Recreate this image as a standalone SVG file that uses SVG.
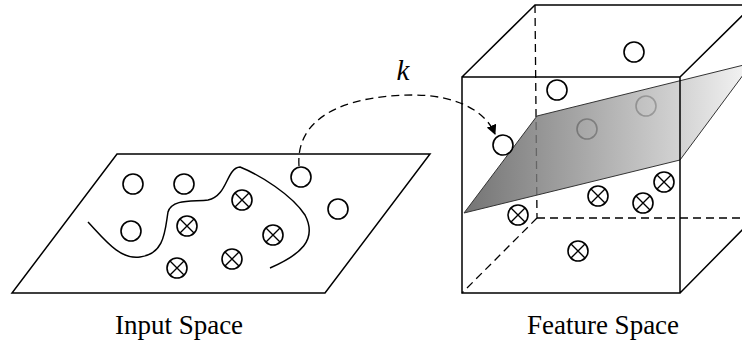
<svg xmlns="http://www.w3.org/2000/svg" width="742" height="345" viewBox="0 0 742 345">
<style>
.ln{fill:none;stroke:#000;stroke-width:1.5}
.dash{fill:none;stroke:#000;stroke-width:1.3;stroke-dasharray:8 5}
.o{fill:#fff;stroke:#000;stroke-width:1.6}
.lbl{font-family:"Liberation Serif",serif;font-size:27px;fill:#000;text-anchor:middle}
</style>
<defs>
<linearGradient id="g" x1="464" y1="0" x2="750" y2="0" gradientUnits="userSpaceOnUse">
<stop offset="0" stop-color="#555"/>
<stop offset="0.75" stop-color="#c8c8c8"/>
<stop offset="1" stop-color="#f2f2f2"/>
</linearGradient>
<marker id="ah" viewBox="0 0 10 10" refX="9" refY="5" markerWidth="10" markerHeight="10" markerUnits="userSpaceOnUse" orient="auto">
<path d="M0,0 L10,5 L0,10 Z" fill="#000"/>
</marker>
<g id="xc"><circle r="10" cx="0" cy="0" fill="#fff" stroke="#000" stroke-width="1.6"/><path d="M-7,-7 L7,7 M7,-7 L-7,7" stroke="#000" stroke-width="1.4"/></g>
</defs>
<g id="input-space">
<polygon class="ln" points="117,154 430,154 325,293 12,293"/>
<path class="ln" d="M88,222 C105,240 120,260 140,257 C165,254 165,230 168,212 C172,198 195,202 208,200 C228,196 226,168 240,167 C260,175 292,195 305,215 C318,240 300,255 270,268"/>
<circle class="o" cx="133" cy="184" r="10"/>
<circle class="o" cx="184" cy="184" r="10"/>
<circle class="o" cx="131" cy="231" r="10"/>
<circle class="o" cx="301" cy="177" r="10"/>
<circle class="o" cx="338" cy="209" r="10"/>
<use href="#xc" x="242" y="200"/>
<use href="#xc" x="187" y="226"/>
<use href="#xc" x="273" y="235"/>
<use href="#xc" x="232" y="259"/>
<use href="#xc" x="177" y="268"/>
</g>
<g id="feature-space">
<path class="dash" d="M535,5 L537,218 M537,218 L742,218 M537,218 L462,293"/>
<circle class="o" cx="634" cy="52" r="10"/>
<circle class="o" cx="557" cy="90" r="10"/>
<circle class="o" cx="587" cy="129" r="10"/>
<circle class="o" cx="646" cy="106" r="10"/>
<polygon points="464,213 537,116 752,63 680,160" fill="url(#g)" fill-opacity="0.82" stroke="#333" stroke-width="1"/>
<path class="ln" d="M462,77 L680,77 L680,293 L462,293 Z M462,77 L535,5 L753,5 M680,77 L753,5 M680,293 L752,220"/>
<circle class="o" cx="503" cy="145" r="10"/>
<use href="#xc" x="518" y="215"/>
<use href="#xc" x="598" y="196"/>
<use href="#xc" x="643" y="203"/>
<use href="#xc" x="664" y="182"/>
<use href="#xc" x="578" y="251"/>
</g>
<g id="connectors">
<path class="dash" d="M299,166 C295,110 360,95 413,95 C455,95 485,110 495,134" marker-end="url(#ah)"/>
<text x="403" y="80" font-family="Liberation Serif, serif" font-style="italic" font-size="29" text-anchor="middle">k</text>
</g>
<text class="lbl" x="179" y="334">Input Space</text>
<text class="lbl" x="603" y="334">Feature Space</text>
</svg>
